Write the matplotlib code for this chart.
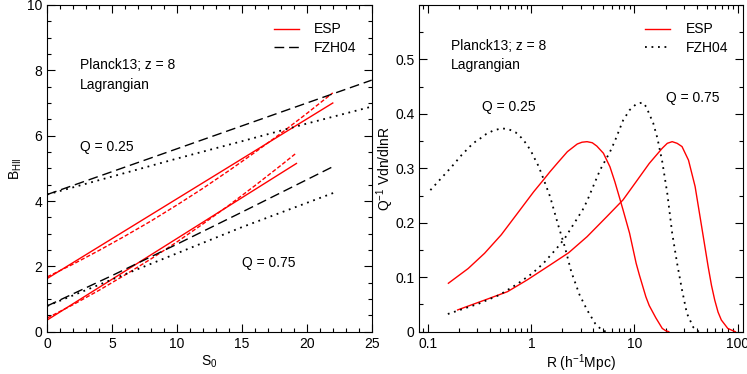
import numpy as np
import matplotlib
matplotlib.use("Agg")
import matplotlib.pyplot as plt
from matplotlib.ticker import MultipleLocator, FixedLocator, FixedFormatter, LogLocator, NullFormatter

plt.rcParams['font.family'] = ['Liberation Sans', 'DejaVu Sans']
plt.rcParams['mathtext.default'] = 'regular'

# ---- left panel: B_HII vs S0 ----
s_esp_25 = [0, 22]
b_esp_25 = [1.63, 7.0]
s_espd_25 = [0, 2, 4, 6, 8, 10, 12, 14, 16, 18, 20, 22]
b_espd_25 = [1.68, 2.07, 2.49, 2.93, 3.39, 3.88, 4.39, 4.93, 5.49, 6.07, 6.68, 7.31]
s_fzh_25 = [0, 25]
b_fzh_25 = [4.2, 7.7]
s_fzhl_25 = [0, 5, 10, 15, 20, 25]
b_fzhl_25 = [4.2, 4.75, 5.3, 5.83, 6.37, 6.89]

s_esp_75 = [0, 19.2]
b_esp_75 = [0.36, 5.15]
s_espd_75 = [0, 2, 4, 6, 8, 10, 12, 14, 16, 18, 19.1]
b_espd_75 = [0.42, 0.83, 1.27, 1.74, 2.23, 2.75, 3.30, 3.87, 4.47, 5.09, 5.44]
s_fzh_75 = [0, 5, 10, 15, 22]
b_fzh_75 = [0.79, 1.72, 2.68, 3.66, 5.05]
s_fzhl_75 = [0, 5, 10, 15, 22.2]
b_fzhl_75 = [0.79, 1.6, 2.4, 3.2, 4.27]

# ---- right panel: Q^-1 V dn/dlnR vs R ----
r_esp_25 = [0.157, 0.244, 0.352, 0.511, 0.731, 1.054, 1.3, 1.52, 1.796, 2.236, 2.786, 3.1, 3.467,
            3.9, 4.315, 5.0, 5.78, 6.45, 7.19, 7.75, 8.96, 10.38, 11.16, 12.9, 13.9, 16.1, 18.6, 20.0, 21.5]
y_esp_25 = [0.089, 0.116, 0.144, 0.178, 0.217, 0.257, 0.278, 0.294, 0.310, 0.3306, 0.3447, 0.348, 0.349,
            0.347, 0.3409, 0.3277, 0.303, 0.2755, 0.245, 0.2236, 0.181, 0.1256, 0.104, 0.064, 0.048,
            0.0255, 0.006, 0.002, 0.0]
r_esp_75 = [0.193, 0.352, 0.587, 0.91, 1.52, 2.3, 3.47, 5.37, 7.74, 10.38, 13.9, 18.6, 20.8,
            23.2, 25.9, 28.9, 33.4, 38.7, 44.8, 51.8, 55.8, 60.0, 64.6, 69.5, 80.3, 89.6, 95.0]
y_esp_75 = [0.040, 0.058, 0.0735, 0.095, 0.1225, 0.145, 0.1745, 0.211, 0.242, 0.2755, 0.309, 0.337, 0.346,
            0.349, 0.346, 0.340, 0.315, 0.2667, 0.193, 0.1194, 0.085, 0.058, 0.036, 0.0215, 0.006, 0.002, 0.0]
r_fzh_25 = [0.105, 0.131, 0.169, 0.211, 0.272, 0.315, 0.365, 0.423, 0.51, 0.60, 0.705, 0.803,
            0.895, 0.99, 1.077, 1.16, 1.245, 1.52, 1.82, 2.11, 2.44, 2.93, 3.47, 4.16, 4.82, 5.3]
y_fzh_25 = [0.260, 0.280, 0.303, 0.3245, 0.346, 0.354, 0.363, 0.369, 0.3735, 0.372, 0.366, 0.356,
            0.345, 0.332, 0.318, 0.306, 0.292, 0.248, 0.196, 0.156, 0.110, 0.068, 0.040, 0.015, 0.003, 0.0]
r_fzh_75 = [0.155, 0.211, 0.304, 0.49, 0.731, 1.02, 1.31, 1.76, 2.11, 2.54, 3.15, 3.47, 4.0,
            4.64, 5.78, 6.45, 7.75, 8.96, 10.38, 12.0, 13.0, 13.9, 15.2, 16.7, 18.6, 20.8,
            23.2, 25.9, 28.9, 32.2, 37.2, 42.0]
y_fzh_75 = [0.0325, 0.041, 0.051, 0.0674, 0.0876, 0.107, 0.1256, 0.153, 0.1715, 0.196, 0.224, 0.240, 0.268,
            0.297, 0.330, 0.350, 0.388, 0.407, 0.418, 0.421, 0.413, 0.400, 0.383, 0.355, 0.312, 0.254,
            0.181, 0.1256, 0.0766, 0.0338, 0.008, 0.0]

fig = plt.figure(figsize=(7.47, 3.74), dpi=100)
ax1 = fig.add_axes([47.3 / 747, 1 - 331.7 / 374, (371.7 - 47.3) / 747, (331.7 - 5) / 374])
ax2 = fig.add_axes([419.3 / 747, 1 - 331.7 / 374, (742.7 - 419.3) / 747, (331.7 - 5) / 374])

red = '#ff0000'
dot = (0, (1, 2.6))
dash = (0, (7, 3.5))
rdash = (0, (3, 1.5))
lw = 1.0
fs = 10

ax1.plot(s_esp_25, b_esp_25, color=red, lw=lw)
ax1.plot(s_espd_25, b_espd_25, color=red, lw=lw, ls=rdash)
ax1.plot(s_esp_75, b_esp_75, color=red, lw=lw)
ax1.plot(s_espd_75, b_espd_75, color=red, lw=lw, ls=rdash)
ax1.plot(s_fzh_25, b_fzh_25, color='k', lw=lw, ls=dash)
ax1.plot(s_fzhl_25, b_fzhl_25, color='k', lw=1.3, ls=dot)
ax1.plot(s_fzh_75, b_fzh_75, color='k', lw=lw, ls=dash)
ax1.plot(s_fzhl_75, b_fzhl_75, color='k', lw=1.3, ls=dot)

ax1.set_xlim(0, 25)
ax1.set_ylim(0, 10)
ax1.xaxis.set_major_locator(MultipleLocator(5))
ax1.xaxis.set_minor_locator(MultipleLocator(1))
ax1.yaxis.set_major_locator(MultipleLocator(2))
ax1.yaxis.set_minor_locator(MultipleLocator(0.5))
ax1.set_xlabel('S$_0$', fontsize=fs)
ax1.set_ylabel('B$_{HII}$', fontsize=fs)

l1, = ax1.plot([], [], color=red, lw=lw)
l2, = ax1.plot([], [], color='k', lw=lw, ls=dash)
ax1.legend([l1, l2], ['ESP', 'FZH04'], loc='upper left', bbox_to_anchor=(0.66, 0.985),
           frameon=False, fontsize=fs, handlelength=1.8, handletextpad=1.1, labelspacing=0.3)

ax1.text(2.5, 8.15, 'Planck13; z = 8', fontsize=fs, va='center')
ax1.text(2.5, 7.55, 'Lagrangian', fontsize=fs, va='center')
ax1.text(2.5, 5.64, 'Q = 0.25', fontsize=fs, va='center')
ax1.text(15.0, 2.1, 'Q = 0.75', fontsize=fs, va='center')

ax2.plot(r_esp_25, y_esp_25, color=red, lw=lw)
ax2.plot(r_esp_75, y_esp_75, color=red, lw=lw)
ax2.plot(r_fzh_25, y_fzh_25, color='k', lw=1.3, ls=dot)
ax2.plot(r_fzh_75, y_fzh_75, color='k', lw=1.3, ls=dot)
ax2.set_xscale('log')
ax2.set_xlim(0.082, 112)
ax2.set_ylim(0, 0.6)
ax2.xaxis.set_major_locator(FixedLocator([0.1, 1, 10, 100]))
ax2.xaxis.set_major_formatter(FixedFormatter(['0.1', '1', '10', '100']))
ax2.xaxis.set_minor_locator(LogLocator(base=10, subs=np.arange(2, 10)))
ax2.xaxis.set_minor_formatter(NullFormatter())
ax2.yaxis.set_major_locator(FixedLocator([0, 0.1, 0.2, 0.3, 0.4, 0.5]))
ax2.yaxis.set_major_formatter(FixedFormatter(['0', '0.1', '0.2', '0.3', '0.4', '0.5']))
ax2.yaxis.set_minor_locator(MultipleLocator(0.05))
ax2.set_xlabel('R (h$^{-1}$Mpc)', fontsize=fs)
ax2.set_ylabel('Q$^{-1}$ Vdn/dlnR', fontsize=fs)

m1, = ax2.plot([], [], color=red, lw=lw)
m2, = ax2.plot([], [], color='k', lw=1.3, ls=dot)
ax2.legend([m1, m2], ['ESP', 'FZH04'], loc='upper left', bbox_to_anchor=(0.66, 0.985),
           frameon=False, fontsize=fs, handlelength=1.8, handletextpad=1.1, labelspacing=0.3)

ax2.text(0.167, 0.525, 'Planck13; z = 8', fontsize=fs, va='center')
ax2.text(0.167, 0.489, 'Lagrangian', fontsize=fs, va='center')
ax2.text(0.332, 0.413, 'Q = 0.25', fontsize=fs, va='center')
ax2.text(20.0, 0.429, 'Q = 0.75', fontsize=fs, va='center')

ax1.xaxis.set_label_coords(0.5, -0.068)
ax2.xaxis.set_label_coords(0.5, -0.062)
ax1.yaxis.set_label_coords(-0.097, 0.5)
ax2.yaxis.set_label_coords(-0.106, 0.5)

for ax in (ax1, ax2):
    ax.yaxis.label.set_va('center')
    ax.tick_params(which='both', direction='in', top=True, right=True, labelsize=fs)
    ax.tick_params(which='major', length=5.8, width=0.8)
    ax.tick_params(which='minor', length=3, width=0.8)
    for sp in ax.spines.values():
        sp.set_linewidth(0.8)

fig.savefig('out.png', dpi=100)
